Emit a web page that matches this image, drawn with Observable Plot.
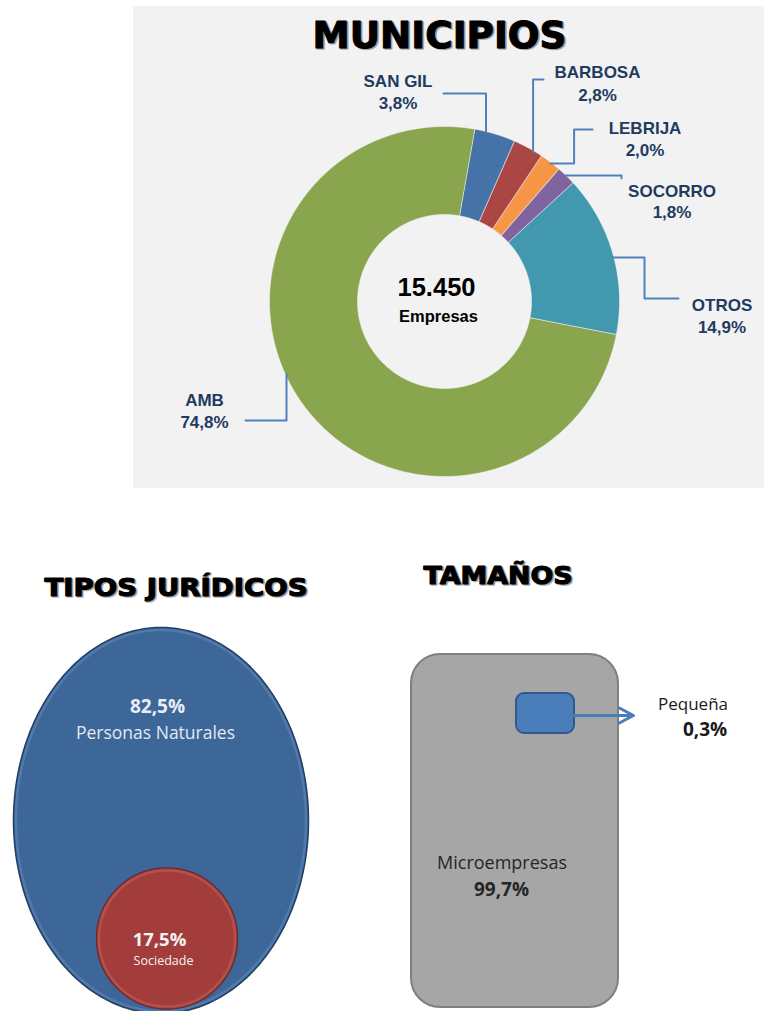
<!DOCTYPE html>
<html><head><meta charset="utf-8">
<script src="https://cdn.jsdelivr.net/npm/d3@7"></script>
<script src="https://cdn.jsdelivr.net/npm/@observablehq/plot@0.6"></script>
<style>
html,body{margin:0;padding:0;background:#fff;}
#chart svg{display:block;}
</style></head>
<body><div id="chart"></div>
<script>
// ---------- DATA ----------
const titles = ["MUNICIPIOS", "TIPOS JURÍDICOS", "TAMAÑOS"];
const municipios = ["SAN GIL", "BARBOSA", "LEBRIJA", "SOCORRO", "OTROS", "AMB"];
const municipioShares = [3.8, 2.8, 2.0, 1.8, 14.9, 74.8];
const municipioColors = ["#4572A7", "#AA4643", "#F79646", "#80649F", "#4198AF", "#89A54E"];
const totalEmpresas = 15450;
const totalLabel = "Empresas";
const tipos = ["Personas Naturales", "Sociedade"];
const tipoShares = [82.5, 17.5];
const tamanos = ["Microempresas", "Pequeña"];
const tamanoShares = [99.7, 0.3];

// ---------- LAYOUT ----------
const W = 764, H = 1011;
const donut = {cx: 444, cy: 301, r0: 87, r1: 175, startDeg: 10};
const labelLayout = {
  "SAN GIL": {x: 397.5, y: 86, dy: 22, leader: [[443, 93], [485.5, 93]], end: "v"},
  "BARBOSA": {x: 597, y: 77, dy: 23, leader: [[543, 79], [532.6, 79]], end: "v"},
  "LEBRIJA": {x: 644.5, y: 133, dy: 22, leader: [[592, 129], [573.6, 129], [573.6, 163]], end: "h"},
  "SOCORRO": {x: 671.5, y: 196, dy: 21, leader: [[621, 178], [621, 175]], end: "h"},
  "OTROS":   {x: 721.5, y: 310, dy: 22, leader: [[678, 298], [644, 298], [644, 257]], end: "h"},
  "AMB":     {x: 204, y: 405, dy: 22, leader: [[245, 420], [286, 420]], end: "v"}
};
const titleLayout = [
  {x: 439, y: 47, size: 37.5, len: 254},
  {x: 175.5, y: 595, size: 24, len: 263},
  {x: 497.5, y: 583, size: 24, len: 149}
];
const ellipse = {cx: 160.5, cy: 820, rx: 147.5, ry: 193};
const innerCircle = {cx: 166.5, cy: 938};
const bigBox = {x1: 411, x2: 618, y1: 654, y2: 1007};
const smallBox = {x1: 516, x2: 574, y1: 693, y2: 733};

// ---------- HELPERS ----------
const loc = d3.formatLocale({decimal: ",", thousands: ".", grouping: [3], currency: ["$", ""]});
const pct = v => loc.format(".1f")(v) + "%";
const num = loc.format(",d");
const rad = d => d * Math.PI / 180;

// donut slices from the values
const pieData = municipios.map((m, i) => ({name: m, value: municipioShares[i], color: municipioColors[i]}));
const arcs = d3.pie().sort(null).value(d => d.value)
  .startAngle(rad(donut.startDeg)).endAngle(rad(donut.startDeg) + 2 * Math.PI)(pieData);
const slicePts = [];
arcs.forEach(a => {
  const n = Math.max(2, Math.ceil((a.endAngle - a.startAngle) / rad(0.5)));
  for (let k = 0; k <= n; k++) {
    const t = a.startAngle + (a.endAngle - a.startAngle) * k / n;
    slicePts.push({name: a.data.name, color: a.data.color, x: donut.cx + donut.r1 * Math.sin(t), y: donut.cy - donut.r1 * Math.cos(t)});
  }
  for (let k = n; k >= 0; k--) {
    const t = a.startAngle + (a.endAngle - a.startAngle) * k / n;
    slicePts.push({name: a.data.name, color: a.data.color, x: donut.cx + donut.r0 * Math.sin(t), y: donut.cy - donut.r0 * Math.cos(t)});
  }
});

// leader lines: layout elbows, ending on the donut's outer edge
const leaderPts = [];
municipios.forEach(m => {
  const L = labelLayout[m];
  L.leader.forEach(([x, y]) => leaderPts.push({name: m, x, y}));
  const [px, py] = L.leader[L.leader.length - 1];
  const r = donut.r1 - 1;
  if (L.end === "v") {
    const s = Math.sign(py - donut.cy);
    leaderPts.push({name: m, x: px, y: donut.cy + s * Math.sqrt(r * r - (px - donut.cx) ** 2)});
  } else {
    const s = Math.sign(px - donut.cx);
    leaderPts.push({name: m, x: donut.cx + s * Math.sqrt(r * r - (py - donut.cy) ** 2), y: py});
  }
});
const labelData = municipios.map((m, i) => ({name: m, pct: pct(municipioShares[i]), ...labelLayout[m]}));
const titleData = titles.map((t, i) => ({t, ...titleLayout[i]}));

// tipos: ellipse = total, circle area = share of Sociedade
const ellipseRing = (dr) => d3.range(0, 360, 1).map(d => ({x: ellipse.cx + (ellipse.rx - dr) * Math.cos(rad(d)), y: ellipse.cy + (ellipse.ry - dr) * Math.sin(rad(d))}));
const circleR = Math.sqrt(tipoShares[1] / 100 * ellipse.rx * ellipse.ry);

const labelFont = "Liberation Sans, Arial, sans-serif";
const bodyFont = "Open Sans, Noto Sans, sans-serif";
const titleFont = "DejaVu Sans, sans-serif";

const chart = Plot.plot({
  width: W, height: H, margin: 0,
  x: {domain: [0, W], range: [0, W], axis: null},
  y: {domain: [0, H], range: [0, H], axis: null},
  color: {type: "identity"},
  style: {background: "white"},
  marks: [
    // gray panel
    Plot.rect([0], {x1: 133, x2: W, y1: 6, y2: 488, fill: "#F2F2F2"}),
    // donut
    Plot.line(slicePts, {x: "x", y: "y", z: "name", fill: "color", stroke: "#F2F2F2", strokeWidth: 0.8, strokeOpacity: 0.7, curve: "linear-closed"}),
    // leaders
    Plot.line(leaderPts, {x: "x", y: "y", z: "name", stroke: "#4F81BD", strokeWidth: 2, curve: "linear"}),
    Plot.text(labelData, {x: "x", y: "y", text: "name", textAnchor: "middle", lineAnchor: "bottom", fontFamily: labelFont, fontWeight: "bold", fontSize: 17, fill: "#1F3B60"}),
    Plot.text(labelData, {x: "x", y: d => d.y + d.dy, text: "pct", textAnchor: "middle", lineAnchor: "bottom", fontFamily: labelFont, fontWeight: "bold", fontSize: 17, fill: "#1F3B60"}),
    Plot.text([num(totalEmpresas)], {x: 436, y: 295, text: d => d, textAnchor: "middle", lineAnchor: "bottom", fontFamily: labelFont, fontWeight: "bold", fontSize: 25.5, fill: "#000"}),
    Plot.text([totalLabel], {x: 438, y: 321, text: d => d, textAnchor: "middle", lineAnchor: "bottom", fontFamily: labelFont, fontWeight: "bold", fontSize: 16.5, fill: "#000"}),
    // titles (shadow + text)
    Plot.text(titleData, {x: "x", y: "y", dx: 1.5, dy: 1.5, text: "t", textAnchor: "middle", lineAnchor: "bottom", fontFamily: titleFont, fontWeight: "bold", fontSize: "size", fill: "#777", stroke: "#777", strokeWidth: 1.6, fillOpacity: 0.55, strokeOpacity: 0.55}),
    Plot.text(titleData, {x: "x", y: "y", text: "t", textAnchor: "middle", lineAnchor: "bottom", fontFamily: titleFont, fontWeight: "bold", fontSize: "size", fill: "#000", stroke: "#000", strokeWidth: 1.1}),
    // tipos jurídicos
    Plot.line(ellipseRing(0), {x: "x", y: "y", fill: "#3D6799", stroke: "#233F63", strokeWidth: 1.5, curve: "linear-closed"}),
    Plot.line(ellipseRing(2.5), {x: "x", y: "y", stroke: "#6A90C0", strokeOpacity: 0.45, strokeWidth: 2.5, curve: "linear-closed"}),
    Plot.dot([innerCircle], {x: "cx", y: "cy", r: circleR, fill: "#A33D3B", stroke: "#6E2624", strokeWidth: 1.2}),
    Plot.dot([innerCircle], {x: "cx", y: "cy", r: circleR - 2.5, stroke: "#C86563", strokeOpacity: 0.45, strokeWidth: 2.5}),
    Plot.text([pct(tipoShares[0])], {x: 157, y: 712, text: d => d, textAnchor: "middle", lineAnchor: "bottom", fontFamily: bodyFont, fontWeight: "bold", fontSize: 19, fill: "#E9EEF6"}),
    Plot.text([tipos[0]], {x: 155, y: 738, text: d => d, textAnchor: "middle", lineAnchor: "bottom", fontFamily: bodyFont, fontSize: 17.5, fill: "#E3E9F2"}),
    Plot.text([pct(tipoShares[1])], {x: 159, y: 945, text: d => d, textAnchor: "middle", lineAnchor: "bottom", fontFamily: bodyFont, fontWeight: "bold", fontSize: 18.5, fill: "#F4F4F4"}),
    Plot.text([tipos[1]], {x: 163, y: 964, text: d => d, textAnchor: "middle", lineAnchor: "bottom", fontFamily: bodyFont, fontSize: 12.5, fill: "#F4F4F4"}),
    // tamaños
    Plot.rect([bigBox], {x1: "x1", x2: "x2", y1: "y1", y2: "y2", rx: 29, fill: "#A6A6A6", stroke: "#7F7F7F", strokeWidth: 2}),
    Plot.rect([smallBox], {x1: "x1", x2: "x2", y1: "y1", y2: "y2", rx: 8, fill: "#4A7EBB", stroke: "#2F5A8C", strokeWidth: 2}),
    Plot.arrow([0], {x1: smallBox.x2, y1: 715, x2: 633, y2: 715, stroke: "#4A7EBB", strokeWidth: 3, headLength: 8, headAngle: 56}),
    Plot.text([tamanos[1]], {x: 692.5, y: 709, text: d => d, textAnchor: "middle", lineAnchor: "bottom", fontFamily: bodyFont, fontSize: 17, fill: "#1A1A1A"}),
    Plot.text([pct(tamanoShares[1])], {x: 704.5, y: 735, text: d => d, textAnchor: "middle", lineAnchor: "bottom", fontFamily: bodyFont, fontWeight: "bold", fontSize: 19, fill: "#1A1A1A"}),
    Plot.text([tamanos[0]], {x: 501.5, y: 868, text: d => d, textAnchor: "middle", lineAnchor: "bottom", fontFamily: bodyFont, fontSize: 18, fill: "#262626"}),
    Plot.text([pct(tamanoShares[0])], {x: 501, y: 895, text: d => d, textAnchor: "middle", lineAnchor: "bottom", fontFamily: bodyFont, fontWeight: "bold", fontSize: 19, fill: "#262626"})
  ]
});
// stretch the titles to the reference widths
d3.select(chart).selectAll("text").each(function () {
  const i = titles.indexOf(this.textContent);
  if (i >= 0) {
    this.setAttribute("textLength", titleLayout[i].len);
    this.setAttribute("lengthAdjust", "spacingAndGlyphs");
  }
});
document.getElementById("chart").append(chart);
</script>
</body></html>
